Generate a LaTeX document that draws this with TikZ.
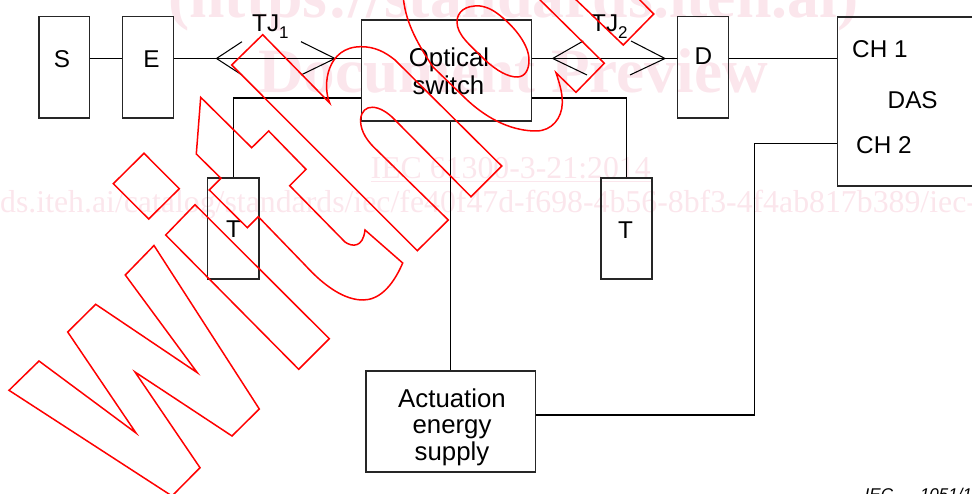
\documentclass[tikz,border=0pt]{standalone}
\usepackage{fontspec}
\setmainfont{Liberation Sans}
\newfontfamily\wmfont{Liberation Serif}
\definecolor{wmpink}{RGB}{251,230,236}
\newcommand{\subdigit}[1]{\raisebox{-7pt}{\fontsize{17}{17}\selectfont #1}}
\tikzset{
    blockbox/.style={draw=black!85, line width=1.3pt, inner sep=0pt},
    labeltext/.style={anchor=base, inner sep=0pt, font=\fontsize{24.3}{24}\selectfont},
    wraptext/.style={anchor=base, inner sep=0pt, font=\fontsize{25.8}{26}\selectfont},
    wmtext/.style={anchor=base west, inner sep=0pt, text=wmpink},
    wirelink/.style={line width=1.05pt, black},
    redline/.style={line width=1.5pt, red, line join=miter}
}
\begin{document}
\begin{tikzpicture}[x=1pt, y=-1pt]
    \clip (0,0) rectangle (972,494);
    % watermark text
    \node[wmtext, font=\wmfont\bfseries\fontsize{63.7}{64}\selectfont] (wmurl) at (168,18) {(https://standards.iteh.ai)};
    \node[wmtext, font=\wmfont\bfseries\fontsize{63.2}{63}\selectfont] (wmdoc) at (258,92.5) {Document Preview};
    \node[wmtext, font=\wmfont\fontsize{31.8}{32}\selectfont] (wmiec) at (370.5,178.3) {IEC 61300-3-21:2014};
    \draw[wmpink, line width=1.2pt] (wmiec.base west) ++(0,3) -- ++(280.5,0);
    \node[wmtext, font=\wmfont\fontsize{31.8}{32}\selectfont] (wmpath) at (0,213) {ds.iteh.ai/catalog/standards/iec/fe40f47d-f698-4b56-8bf3-4f4ab817b389/iec-};

    % blocks
    \node[blockbox, minimum width=50.5pt, minimum height=101.5pt] (src) at (64.25,67.25) {};
    \node[blockbox, minimum width=51pt, minimum height=101.5pt] (emit) at (148,67.25) {};
    \node[blockbox, minimum width=170pt, minimum height=101pt] (switch) at (446.5,70.5) {};
    \node[blockbox, minimum width=51pt, minimum height=101.5pt] (det) at (703,67.25) {};
    \node[blockbox, anchor=north west, minimum width=200pt, minimum height=169pt] (das) at (836.5,16.5) {};
    \node[blockbox, minimum width=51.5pt, minimum height=101pt] (termone) at (233.25,228.5) {};
    \node[blockbox, minimum width=51pt, minimum height=101pt] (termtwo) at (626.5,228.5) {};
    \node[blockbox, minimum width=169.5pt, minimum height=101pt] (supply) at (450.75,421.5) {};

    % labels
    \node[labeltext] (srclabel) at (62,67.7) {S};
    \node[labeltext] (emitlabel) at (151.5,67.7) {E};
    \node[labeltext] (detlabel) at (703.5,65) {D};
    \node[labeltext] (termonelabel) at (233.5,238) {T};
    \node[labeltext] (termtwolabel) at (625.5,238.5) {T};
    \node[wraptext] (switchlabela) at (449,67) {Optical};
    \node[wraptext] (switchlabelb) at (448.5,95) {switch};
    \node[wraptext] (supplylabela) at (452,407) {Actuation};
    \node[wraptext] (supplylabelb) at (452,433.5) {energy};
    \node[wraptext] (supplylabelc) at (452,460.5) {supply};
    \node[labeltext, anchor=base west] (chone) at (852,58) {CH 1};
    \node[labeltext, anchor=base west] (chtwo) at (856,153.5) {CH 2};
    \node[labeltext, anchor=base west] (daslabel) at (887.5,108.5) {DAS};
    \node[labeltext, anchor=base west] (tjone) at (252,31.5) {TJ\subdigit{1}};
    \node[labeltext, anchor=base west] (tjtwo) at (591,31.5) {TJ\subdigit{2}};
    \node[anchor=base west, inner sep=0pt, font=\itshape\fontsize{17}{17}\selectfont] (figref) at (864.5,500) {IEC\hspace{27pt}1051/1};

    % connectors
    \coordinate (trunk) at (0,58.5);
    \coordinate (tapline) at (0,98);
    \coordinate (feedline) at (0,415);
    \coordinate (bend) at (754.5,143.5);
    \draw[wirelink] (src.east |- trunk) -- (emit.west |- trunk);
    \draw[wirelink] (emit.east |- trunk) -- (switch.west |- trunk);
    \draw[wirelink] (switch.east |- trunk) -- (det.west |- trunk);
    \draw[wirelink] (det.east |- trunk) -- (das.west |- trunk);
    \draw[wirelink] (switch.west |- tapline) -| (termone.north);
    \draw[wirelink] (switch.east |- tapline) -| (termtwo.north);
    \draw[wirelink] (supply.north |- switch.south) -- (supply.north);
    \draw[wirelink] (supply.east |- feedline) -| (bend) -- (das.west |- bend);

    % joint marks
    \draw[wirelink] (242,41.7) -- (216.5,58.5) -- (242,75);
    \draw[wirelink] (301,41.7) -- (335,58.5) -- (301,75);
    \draw[wirelink] (583.3,41) -- (552.7,58.5) -- (587,75);
    \draw[wirelink] (631,41) -- (665,58.5) -- (630,75);

    % outlined word, letter by letter
    \draw[redline] (9,390.3) -- (39,361) -- (136,433) -- (67.7,332) -- (95.7,304.3) -- (197.3,372.7) -- (125.3,275)
        -- (154,245.5) -- (259.3,409) -- (232,436) -- (135,372) -- (200,467.7) -- (172,496) -- cycle;
    \draw[redline] (113.3,183.7) -- (144,153.3) -- (179.3,188.7) -- (148.7,219) -- cycle;
    \draw[redline] (165.7,235) -- (195,204.7) -- (329.3,338.7) -- (298.7,369.3) -- cycle;
    \draw[redline] (200.7,97.3) -- (251.7,147.7) -- (268.7,131) -- (306,169.3) -- (289.7,185.7) -- (345,242)
        .. controls (352,247) and (363,248) .. (365,230) -- (402.7,263)
        .. controls (392,288) and (378,300) .. (363,300)
        .. controls (345,300) and (325,287) .. (305,265) -- (258.3,216.7) -- (247.3,227.7) -- (209.3,190)
        -- (221,178.3) -- (196.3,154) -- cycle;
    \draw[redline] (231.7,65) -- (262.7,34.7) -- (329.7,103)
        .. controls (322,85) and (327,46.7) .. (361,46.7)
        .. controls (375,46.7) and (385,52) .. (395,60) -- (501.7,166) -- (471,196.7) -- (395,120)
        .. controls (380,104) and (362,102) .. (360.5,120)
        .. controls (360.5,132) and (368,142) .. (376.7,150) -- (448.3,220) -- (417.3,250.7) -- cycle;
    \draw[redline] (403,-5) .. controls (405,20) and (415,40) .. (433,67) -- (465,98)
        .. controls (490,122) and (515,131) .. (536,131)
        .. controls (552,131) and (562,118) .. (562.3,103)
        .. controls (562.5,92) and (559,82) .. (556,72.7) -- (576,92.3) -- (604.3,63.3) -- (530,-10);
    \draw[redline] (480,6) .. controls (465,5) and (457,12) .. (457,22)
        .. controls (457,35) and (470,45) .. (485,60)
        .. controls (497,71) and (508,77) .. (517,77)
        .. controls (525,77) and (529,70) .. (529,60)
        .. controls (529,45) and (515,28) .. (503,18)
        .. controls (495,11) and (488,7) .. (480,6) -- cycle;
    \draw[redline] (570,-6) -- (623.3,45) -- (653.7,14) -- (630,-10);
\end{tikzpicture}
\end{document}
